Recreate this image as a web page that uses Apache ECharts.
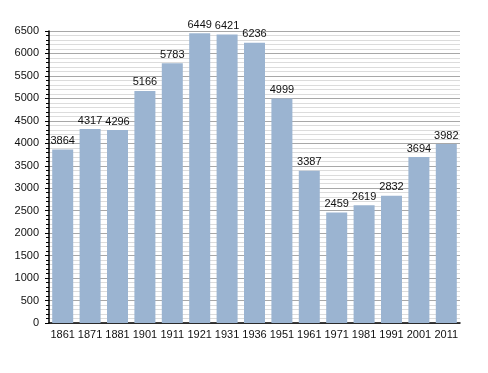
<!DOCTYPE html>
<html><head><meta charset="utf-8">
<script src="https://cdn.jsdelivr.net/npm/echarts@6/dist/echarts.min.js"></script>
<style>html,body{margin:0;padding:0;background:#fff}#c{width:488px;height:373px}</style>
</head><body><div id="c"></div>
<script>
var years = ['1861','1871','1881','1901','1911','1921','1931','1936','1951','1961','1971','1981','1991','2001','2011'];
var population = [3864,4317,4296,5166,5783,6449,6421,6236,4999,3387,2459,2619,2832,3694,3982];

var chart = echarts.init(document.getElementById('c'), null, {renderer:'canvas'});
chart.setOption({
  animation:false,
  backgroundColor:'#fff',
  textStyle:{fontFamily:'Liberation Sans, Arial, sans-serif'},
  grid:{left:49,right:28,top:31,bottom:50,containLabel:false},
  xAxis:{
    type:'category', data:years,
    axisLine:{lineStyle:{color:'#000',width:1.5}},
    axisTick:{show:false},
    axisLabel:{color:'#111',fontSize:11,margin:6,interval:0}
  },
  yAxis:{
    type:'value', min:0, max:6500, interval:500,
    axisLine:{show:true,lineStyle:{color:'#000',width:1.5}},
    axisTick:{show:true,length:4,lineStyle:{color:'#000'}},
    minorTick:{show:true,splitNumber:5,length:3,lineStyle:{color:'#000'}},
    splitLine:{show:true,lineStyle:{color:'#a8a8a8',width:1}},
    minorSplitLine:{show:true,lineStyle:{color:'#dcdcdc',width:1}},
    axisLabel:{color:'#111',fontSize:11,margin:10,formatter:function(v){return String(v);}}
  },
  series:[{
    type:'bar', data:population, barWidth:21,
    itemStyle:{color:'#9bb4d1'},
    label:{show:true,position:'top',color:'#111',fontSize:11,distance:3}
  }]
});
</script></body></html>
